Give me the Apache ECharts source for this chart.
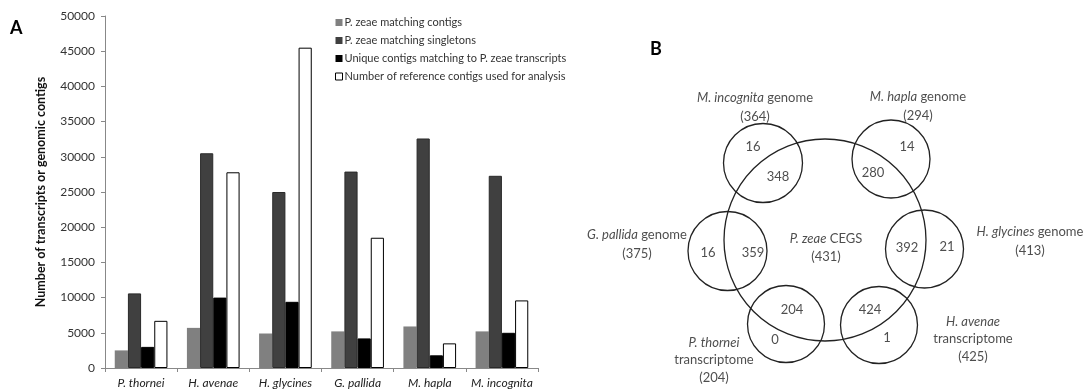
<!DOCTYPE html>
<html><head><meta charset="utf-8">
<script src="https://cdn.jsdelivr.net/npm/echarts@6/dist/echarts.min.js"></script>
<style>html,body{margin:0;padding:0;background:#fff}#c{width:1091px;height:389px}</style>
</head><body><div id="c"></div>
<script>
// ---------- Panel A data ----------
const categories = ['P. thornei', 'H. avenae', 'H. glycines', 'G. pallida', 'M. hapla', 'M. incognita'];
const seriesNames = ['P. zeae matching contigs', 'P. zeae matching singletons', 'Unique contigs matching to P. zeae transcripts', 'Number of reference contigs used for analysis'];
const matchingContigs = [2500, 5700, 4900, 5200, 5900, 5200];
const matchingSingletons = [10600, 30500, 25000, 27900, 32600, 27300];
const uniqueContigs = [3000, 10000, 9400, 4200, 1800, 5000];
const referenceContigs = [6700, 27800, 45500, 18500, 3500, 9600];
const yAxisTitle = 'Number of transcripts or genomic contigs';

// ---------- Panel B data ----------
const vennCenterName = 'P. zeae CEGS';
const vennCenterTotal = 431;
const vennSetNames = ['M. incognita genome', 'M. hapla genome', 'H. glycines genome', 'H. avenae transcriptome', 'P. thornei transcriptome', 'G. pallida genome'];
const vennSetTotals = [364, 294, 413, 425, 204, 375];
const vennShared = [348, 280, 392, 424, 204, 359];
const vennUnique = [16, 14, 21, 1, 0, 16];

// ---------- Panel B layout (diagram geometry) ----------
const centerCircle = { x: 0, y: 0, r: 101 };
const setCircles = [[-62, 77, 39.5], [66, 81, 39], [99.5, -9, 39], [54, -85, 38.5], [-39, -84, 38.5], [-97.5, -11, 39.5]];
const sharedPos = [[-47, 63], [48, 67], [82, -8], [45, -70], [-33, -70], [-72, -13]];
const uniquePos = [[-72, 93], [82, 93], [122, -7], [62, -98], [-50, -100], [-117, -13]];
const setLabelPos = [[-70, 133], [93, 133.5], [205, -1.5], [148, -99], [-111, -120], [-188, -4]];

const FONT = 'Lato, "Open Sans", sans-serif';

function setLabelText(name, total) {
  const parts = name.split(' ');
  const species = parts.slice(0, 2).join(' ');
  const rest = parts.slice(2).join(' ');
  if (rest === 'transcriptome') return '{i|' + species + '}\n{n|transcriptome}\n{n|(' + total + ')}';
  return '{i|' + species + '}{n| ' + rest + '}\n{n|(' + total + ')}';
}

const circleData = [[centerCircle.x, centerCircle.y, centerCircle.r]].concat(setCircles);

const countData = [];
vennShared.forEach((v, i) => countData.push({ value: [sharedPos[i][0], sharedPos[i][1]], label: { formatter: String(v) } }));
vennUnique.forEach((v, i) => countData.push({ value: [uniquePos[i][0], uniquePos[i][1]], label: { formatter: String(v) } }));

const setLabelData = vennSetNames.map((n, i) => ({ value: setLabelPos[i], label: { formatter: setLabelText(n, vennSetTotals[i]), lineHeight: (n.endsWith('transcriptome') ? 17.5 : 19) } }));
setLabelData.push({ value: [1, -8], label: { formatter: '{i|P. zeae}{n| CEGS}\n{n|(' + vennCenterTotal + ')}', lineHeight: 18 } });

const rich = {
  i: { fontStyle: 'italic', fontSize: 13, fontFamily: FONT, color: '#222' },
  n: { fontSize: 13, fontFamily: FONT, color: '#222' }
};

const chart = echarts.init(document.getElementById('c'), null, { renderer: 'canvas' });
const colors = ['#808080', '#404040', '#000000', '#ffffff'];
const borders = ['#808080', '#2a2a2a', '#000000', '#000000'];
const barData = [matchingContigs, matchingSingletons, uniqueContigs, referenceContigs];

chart.setOption({
  animation: false,
  textStyle: { fontFamily: FONT },
  graphic: [
    { type: 'text', left: 10, top: 19, style: { text: 'A', fontSize: 18, fontWeight: 'bold', fontFamily: FONT, fill: '#000' } },
    { type: 'text', left: 650, top: 40, style: { text: 'B', fontSize: 18, fontWeight: 'bold', fontFamily: FONT, fill: '#000' } }
  ],
  legend: {
    orient: 'vertical', left: 330, top: 12, itemWidth: 7, itemHeight: 7, itemGap: 7,
    textStyle: { fontSize: 11, color: '#333', fontFamily: FONT, padding: [0, 0, 0, -3] },
    data: seriesNames.map((n, i) => ({ name: n, icon: 'rect', itemStyle: { color: colors[i], borderColor: i === 3 ? '#000' : colors[i], borderWidth: i === 3 ? 1 : 0 } }))
  },
  grid: [
    { left: 105, right: 553, top: 16, bottom: 21 },
    { left: 560, width: 531, top: 0, height: 389 }
  ],
  xAxis: [
    {
      gridIndex: 0, type: 'category', data: categories,
      axisLine: { lineStyle: { color: '#888' } },
      axisTick: { show: true, length: 4, lineStyle: { color: '#888' } },
      axisLabel: { fontStyle: 'italic', fontSize: 12, color: '#222', margin: 9, interval: 0 }
    },
    { gridIndex: 1, type: 'value', min: -265, max: 266, show: false }
  ],
  yAxis: [
    {
      gridIndex: 0, type: 'value', min: 0, max: 50000, interval: 5000,
      name: yAxisTitle, nameLocation: 'middle', nameGap: 58,
      nameTextStyle: { fontWeight: 'bold', fontSize: 12.5, color: '#111' },
      axisLine: { show: true, lineStyle: { color: '#888' } },
      axisTick: { show: true, length: 4, lineStyle: { color: '#888' } },
      splitLine: { show: false },
      axisLabel: { fontSize: 12, color: '#333', margin: 10, formatter: v => String(v) }
    },
    { gridIndex: 1, type: 'value', min: -149, max: 240, show: false }
  ],
  series: barData.map((d, i) => ({
    name: seriesNames[i], type: 'bar', xAxisIndex: 0, yAxisIndex: 0, data: d,
    barGap: '0%', barCategoryGap: '27%',
    itemStyle: { color: colors[i], borderColor: borders[i], borderWidth: i === 0 ? 0 : 1 }
  })).concat([
    {
      type: 'custom', xAxisIndex: 1, yAxisIndex: 1, data: circleData, silent: true,
      renderItem: function (params, api) {
        const c = api.coord([api.value(0), api.value(1)]);
        const s = api.size([api.value(2), api.value(2)]);
        return { type: 'circle', shape: { cx: c[0], cy: c[1], r: s[0] }, style: { fill: 'none', stroke: '#222', lineWidth: 1.3 } };
      }
    },
    {
      type: 'scatter', xAxisIndex: 1, yAxisIndex: 1, symbolSize: 0, silent: true, data: countData,
      label: { show: true, position: 'inside', fontSize: 13, color: '#222', fontFamily: FONT }
    },
    {
      type: 'scatter', xAxisIndex: 1, yAxisIndex: 1, symbolSize: 0, silent: true, data: setLabelData,
      label: { show: true, position: 'inside', align: 'center', verticalAlign: 'middle', rich: rich }
    }
  ])
});
</script>
</body></html>
